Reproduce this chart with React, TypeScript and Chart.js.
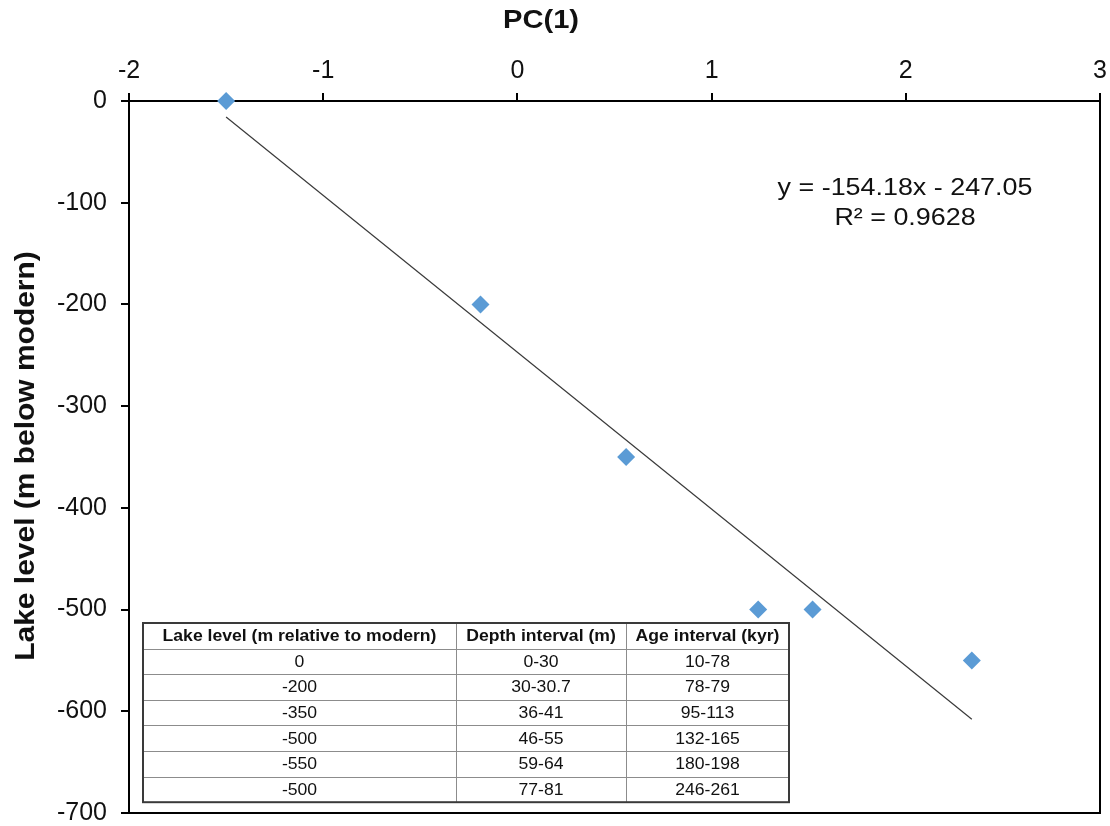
import React, { useEffect, useRef } from "react";
import { Chart, registerables } from "chart.js";

Chart.register(...registerables);

// ---- data ----
const pcValues = [-1.5, -0.19, 0.56, 1.24, 1.52, 2.34];
const lakeLevels = [0, -200, -350, -500, -500, -550];
const trendSlope = -154.18;
const trendIntercept = -247.05;
const rSquared = 0.9628;

const xAxisTitle = "PC(1)";
const yAxisTitle = "Lake level (m below modern)";

const tableHeaders = ["Lake level (m relative to modern)", "Depth interval (m)", "Age interval (kyr)"];
const tableLakeLevels = ["0", "-200", "-350", "-500", "-550", "-500"];
const tableDepths = ["0-30", "30-30.7", "36-41", "46-55", "59-64", "77-81"];
const tableAges = ["10-78", "78-79", "95-113", "132-165", "180-198", "246-261"];

const FONT = "'Liberation Sans', Arial, sans-serif";
const SX = 1.12;

function drawText(ctx: CanvasRenderingContext2D, text: string, x: number, y: number, font: string, sx = SX) {
  ctx.save();
  ctx.font = font;
  ctx.textAlign = "center";
  ctx.textBaseline = "middle";
  ctx.translate(x, y);
  ctx.scale(sx, 1);
  ctx.fillText(text, 0, 0);
  ctx.restore();
}

const framePlugin = {
  id: "frame",
  beforeDatasetsDraw(chart: any) {
    const ctx = chart.ctx as CanvasRenderingContext2D;
    const { left, top, right, bottom } = chart.chartArea;
    ctx.save();
    ctx.strokeStyle = "#000";
    ctx.lineWidth = 2;
    ctx.strokeRect(left, top, right - left, bottom - top);
    ctx.restore();
  },
  afterDraw(chart: any) {
    const ctx = chart.ctx as CanvasRenderingContext2D;
    ctx.save();
    ctx.fillStyle = "#111";
    // axis titles
    drawText(ctx, xAxisTitle, 541, 21, `bold 26px ${FONT}`);
    ctx.save();
    ctx.translate(26, 456);
    ctx.rotate(-Math.PI / 2);
    drawText(ctx, yAxisTitle, 0, 0, `bold 28px ${FONT}`, 1.07);
    ctx.restore();

    // equation
    const eq = `y = ${trendSlope}x - ${Math.abs(trendIntercept)}`;
    drawText(ctx, eq, 905, 188, `24px ${FONT}`);
    drawText(ctx, `R² = ${rSquared}`, 905, 218, `24px ${FONT}`);

    // table
    const cols = [143, 456, 626, 789];
    const tTop = 623;
    const rowH = 25.6;
    const nRows = tableLakeLevels.length + 1;
    const tBottom = tTop + rowH * nRows;
    ctx.fillStyle = "#fff";
    ctx.fillRect(cols[0], tTop, cols[3] - cols[0], tBottom - tTop);
    ctx.strokeStyle = "#8c8c8c";
    ctx.lineWidth = 1;
    ctx.beginPath();
    for (let r = 1; r < nRows; r++) {
      const y = Math.round(tTop + r * rowH) + 0.5;
      ctx.moveTo(cols[0], y);
      ctx.lineTo(cols[3], y);
    }
    for (let c = 1; c < 3; c++) {
      const x = cols[c] + 0.5;
      ctx.moveTo(x, tTop);
      ctx.lineTo(x, tBottom);
    }
    ctx.stroke();
    ctx.strokeStyle = "#3a3a3a";
    ctx.lineWidth = 2;
    ctx.strokeRect(cols[0], tTop, cols[3] - cols[0], tBottom - tTop);

    ctx.fillStyle = "#111";
    for (let c = 0; c < 3; c++) {
      const cx = (cols[c] + cols[c + 1]) / 2;
      drawText(ctx, tableHeaders[c], cx, tTop + rowH / 2 + 1, `bold 16px ${FONT}`, 1.1);
    }
    const colsData = [tableLakeLevels, tableDepths, tableAges];
    for (let r = 0; r < tableLakeLevels.length; r++) {
      const cy = tTop + rowH * (r + 1) + rowH / 2 + 1;
      for (let c = 0; c < 3; c++) {
        const cx = (cols[c] + cols[c + 1]) / 2;
        drawText(ctx, colsData[c][r], cx, cy, `16px ${FONT}`, 1.1);
      }
    }
    ctx.restore();
  },
};

function zeroPadding(s: any) {
  s.paddingTop = 0;
  s.paddingBottom = 0;
  s.paddingLeft = 0;
  s.paddingRight = 0;
}

export default function App() {
  const ref = useRef<HTMLCanvasElement>(null);

  useEffect(() => {
    if (!ref.current) return;
    const points = pcValues.map((x, i) => ({ x, y: lakeLevels[i] }));
    const xMin = Math.min(...pcValues);
    const xMax = Math.max(...pcValues);
    const trend = [
      { x: xMin, y: trendSlope * xMin + trendIntercept },
      { x: xMax, y: trendSlope * xMax + trendIntercept },
    ];
    const chart = new Chart(ref.current, {
      type: "scatter",
      data: {
        datasets: [
          {
            type: "line",
            data: trend,
            borderColor: "#3a3a3a",
            borderWidth: 1.2,
            pointRadius: 0,
            showLine: true,
            fill: false,
          } as any,
          {
            data: points,
            pointStyle: "rectRot",
            pointRadius: 9,
            backgroundColor: "#5B9BD5",
            borderWidth: 0,
            clip: false,
          } as any,
        ],
      },
      options: {
        animation: false,
        responsive: false,
        layout: { padding: { left: 0, top: 0, right: 10, bottom: 13 } },
        plugins: { legend: { display: false }, tooltip: { enabled: false } },
        scales: {
          x: {
            type: "linear",
            position: "top",
            min: -2,
            max: 3,
            ticks: {
              stepSize: 1,
              color: "#111",
              font: { family: FONT, size: 25 },
              padding: 7,
            },
            grid: { drawOnChartArea: false, drawTicks: true, tickLength: 8, color: "#000", lineWidth: 2 },
            border: { color: "#000", width: 2 },
            afterFit: (s: any) => {
              s.height = 101;
              zeroPadding(s);
            },
          },
          y: {
            type: "linear",
            min: -700,
            max: 0,
            ticks: {
              stepSize: 100,
              color: "#111",
              font: { family: FONT, size: 25 },
              padding: 14,
            },
            grid: { drawOnChartArea: false, drawTicks: true, tickLength: 8, color: "#000", lineWidth: 2 },
            border: { color: "#000", width: 2 },
            afterFit: (s: any) => {
              s.width = 129;
              zeroPadding(s);
            },
          },
        },
      },
      plugins: [framePlugin],
    });
    return () => chart.destroy();
  }, []);

  return (
    <div style={{ position: "fixed", left: 0, top: 0, width: 1110, height: 826, background: "#fff" }}>
      <canvas ref={ref} width={1110} height={826} style={{ width: 1110, height: 826 }} />
    </div>
  );
}
